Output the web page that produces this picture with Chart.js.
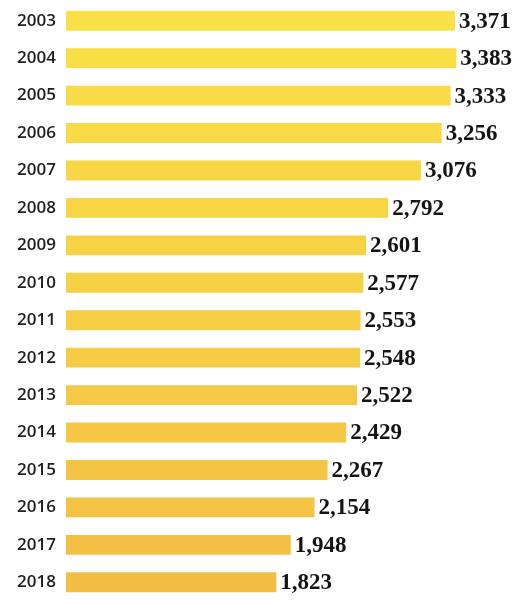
<!DOCTYPE html>
<html>
<head>
<meta charset="utf-8">
<script src="https://cdn.jsdelivr.net/npm/chart.js@4"></script>
<style>
html,body{margin:0;padding:0;background:#fff;}
#wrap{width:522px;height:601px;position:relative;}
</style>
</head>
<body>
<div id="wrap"><canvas id="c"></canvas></div>
<script>
const years = ["2003","2004","2005","2006","2007","2008","2009","2010","2011","2012","2013","2014","2015","2016","2017","2018"];
const values = [3371,3383,3333,3256,3076,2792,2601,2577,2553,2548,2522,2429,2267,2154,1948,1823];

const topColor = [249, 224, 70];
const bottomColor = [243, 190, 68];
const barColors = years.map((_, i) => {
  const t = i / (years.length - 1);
  const c = topColor.map((v, k) => Math.round(v + (bottomColor[k] - v) * t));
  return `rgb(${c[0]},${c[1]},${c[2]})`;
});

const valueLabels = {
  id: 'valueLabels',
  afterDatasetsDraw(chart) {
    const ctx = chart.ctx;
    const meta = chart.getDatasetMeta(0);
    ctx.save();
    ctx.font = 'bold 23px "Liberation Serif", serif';
    ctx.fillStyle = '#141414';
    ctx.textAlign = 'left';
    ctx.textBaseline = 'middle';
    meta.data.forEach((bar, i) => {
      ctx.fillText(values[i].toLocaleString('en-US'), bar.x + 4, bar.y + 1);
    });
    ctx.restore();
  }
};

new Chart(document.getElementById('c'), {
  type: 'bar',
  data: {
    labels: years,
    datasets: [{
      data: values,
      backgroundColor: barColors,
      borderWidth: 0,
      categoryPercentage: 1,
      barPercentage: 0.53
    }]
  },
  options: {
    indexAxis: 'y',
    responsive: true,
    maintainAspectRatio: false,
    animation: false,
    layout: { padding: { left: 0, right: 6, top: 2, bottom: 0 } },
    plugins: { legend: { display: false }, tooltip: { enabled: false } },
    scales: {
      x: {
        min: 0, max: 3900,
        display: false
      },
      y: {
        grid: { display: false, drawTicks: false },
        border: { display: false },
        ticks: {
          color: '#1e1e1e',
          font: { family: '"Open Sans", sans-serif', size: 17, weight: '600' },
          padding: 10
        },
        afterFit(scale) {
          scale.width = 66;
          scale.paddingTop = 0;
          scale.paddingBottom = 0;
        }
      }
    }
  },
  plugins: [valueLabels]
});
</script>
</body>
</html>
